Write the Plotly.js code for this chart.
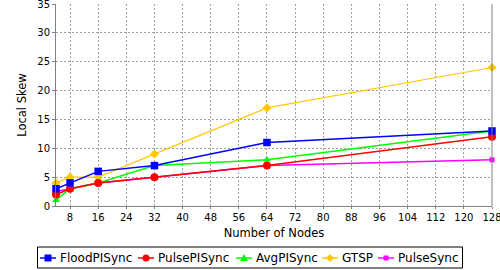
<!DOCTYPE html>
<html>
<head>
<meta charset="utf-8">
<script src="https://cdn.plot.ly/plotly-3.0.1.min.js"></script>
<style>html,body{margin:0;padding:0;background:#fff;}#chart{width:500px;height:270px;}</style>
</head>
<body>
<div id="chart"></div>
<script>
const nodes = [4, 8, 16, 32, 64, 128];
const floodPISync = [3, 4, 6, 7, 11, 13];
const pulsePISync = [2, 3, 4, 5, 7, 12];
const avgPISync = [1, 3, 4, 7, 8, 13];
const gtsp = [4, 5, 5, 9, 17, 24];
const pulseSync = [2.5, 3, 4, 5, 7, 8];
const xTicks = [8, 16, 24, 32, 40, 48, 56, 64, 72, 80, 88, 96, 104, 112, 120, 128];
const seriesNames = ['FloodPISync', 'PulsePISync', 'AvgPISync', 'GTSP', 'PulseSync'];
const seriesColors = ['#0000FF', '#FF0000', '#00FF00', '#FFC800', '#FF00FF'];
const seriesSymbols = ['square', 'circle', 'triangle-up', 'diamond', 'square'];

// plot area geometry (pixels)
const L = 56, R = 8, T = 4, B = 64, W = 500, H = 270;
const PW = W - L - R, PH = H - T - B;
const px2x = p => (p - L) / PW;
const py2y = p => (H - B - p) / PH;

function tr(i, y, size, width) {
  return {x: nodes, y: y, name: seriesNames[i], type: 'scatter', mode: 'lines+markers', showlegend: false,
    line: {color: seriesColors[i], width: width},
    marker: {color: seriesColors[i], symbol: seriesSymbols[i], size: size}, cliponaxis: false};
}
const data = [
  tr(4, pulseSync, 5, 1.5),
  tr(2, avgPISync, 7, 1.5),
  tr(3, gtsp, 7, 1.2),
  tr(1, pulsePISync, 8, 1.5),
  tr(0, floodPISync, 7.5, 1.5)
];

// custom legend (layout only)
const legStarts = [40, 138, 236, 322, 378];
const legY = 258;
const shapes = [];
const annotations = [];
shapes.push({type: 'rect', xref: 'paper', yref: 'paper', x0: px2x(37.5), x1: px2x(462.5), y0: py2y(268), y1: py2y(247),
  line: {color: '#000', width: 1}, fillcolor: 'rgba(0,0,0,0)'});
shapes.push({type: 'line', xref: 'paper', yref: 'paper', x0: 1, x1: 1, y0: 0, y1: 1, line: {color: '#808080', width: 1}});
seriesNames.forEach((name, i) => {
  const s = legStarts[i], c = seriesColors[i];
  shapes.push({type: 'line', xref: 'paper', yref: 'paper', x0: px2x(s), x1: px2x(s + 16), y0: py2y(legY), y1: py2y(legY),
    line: {color: c, width: 1.5}});
  const xa = px2x(s + 8), ya = py2y(legY);
  const base = {xref: 'paper', yref: 'paper', xsizemode: 'pixel', ysizemode: 'pixel', xanchor: xa, yanchor: ya,
    fillcolor: c, line: {color: c, width: 0}};
  const sym = seriesSymbols[i];
  if (sym === 'square') {
    const h = i === 4 ? 2.5 : 3.5;
    shapes.push(Object.assign({type: 'rect', x0: -h, x1: h, y0: -h, y1: h}, base));
  } else if (sym === 'circle') {
    shapes.push(Object.assign({type: 'circle', x0: -3.5, x1: 3.5, y0: -3.5, y1: 3.5}, base));
  } else if (sym === 'triangle-up') {
    shapes.push(Object.assign({type: 'path', path: 'M0,4 L4,-3 L-4,-3 Z'}, base));
  } else if (sym === 'diamond') {
    shapes.push(Object.assign({type: 'path', path: 'M0,4 L4,0 L0,-4 L-4,0 Z'}, base));
  }
  annotations.push({xref: 'paper', yref: 'paper', x: px2x(s + 18), y: py2y(legY), xanchor: 'left', yanchor: 'middle',
    text: name, showarrow: false, font: {family: 'DejaVu Sans', size: 12, color: '#000'}});
});

const layout = {
  width: W, height: H,
  margin: {l: L, r: R, t: T, b: B},
  paper_bgcolor: '#fff', plot_bgcolor: '#fff',
  font: {family: 'DejaVu Sans', size: 10, color: '#000'},
  showlegend: false,
  shapes: shapes,
  annotations: annotations,
  xaxis: {range: [4, 128], tickvals: xTicks, ticktext: xTicks.map(String),
    showgrid: true, gridcolor: '#a0a0a0', griddash: '2px,2px', gridwidth: 1,
    showline: true, linecolor: '#808080', linewidth: 1,
    ticks: 'outside', ticklen: 2, tickcolor: '#808080', zeroline: false,
    ticklabeloverflow: 'allow', automargin: false,
    tickfont: {size: 10},
    title: {text: 'Number of Nodes', font: {size: 11.5}, standoff: 6}},
  yaxis: {range: [0, 35], dtick: 5, tick0: 0,
    showgrid: true, gridcolor: '#a0a0a0', griddash: '2px,2px', gridwidth: 1,
    showline: true, linecolor: '#808080', linewidth: 1,
    ticks: 'outside', ticklen: 3, tickcolor: '#808080', zeroline: false,
    ticklabeloverflow: 'allow', automargin: false,
    tickfont: {size: 10},
    title: {text: 'Local Skew', font: {size: 11.5}, standoff: 8}}
};
Plotly.newPlot('chart', data, layout, {displayModeBar: false, staticPlot: true});
</script>
</body>
</html>
